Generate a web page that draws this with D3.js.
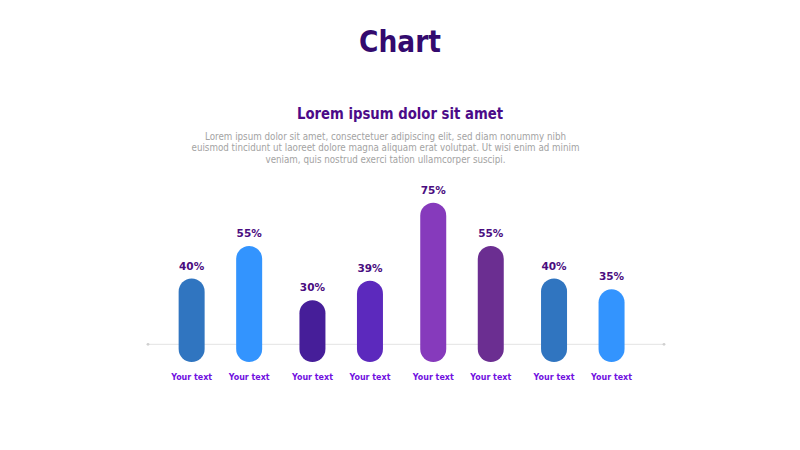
<!DOCTYPE html>
<html>
<head>
<meta charset="utf-8">
<script src="https://cdn.jsdelivr.net/npm/d3@7"></script>
<style>
  html, body { margin: 0; padding: 0; background: #ffffff; }
  svg { display: block; }
  text { font-family: "DejaVu Sans", Verdana, sans-serif; }
</style>
</head>
<body>
<svg id="chart" width="800" height="450"></svg>
<script>
// ---- data ----
const categories = ["Your text", "Your text", "Your text", "Your text", "Your text", "Your text", "Your text", "Your text"];
const values = [40, 55, 30, 39, 75, 55, 40, 35];
const groups = ["A", "A", "B", "B", "C", "C", "D", "D"];
const colors = ["#3075c0", "#3394fe", "#461e99", "#5c29bd", "#863abc", "#6b2e91", "#3075c0", "#3394fe"];
const title = "Chart";
const subtitle = "Lorem ipsum dolor sit amet";
const paragraph = [
  "Lorem ipsum dolor sit amet, consectetuer adipiscing elit, sed diam nonummy nibh",
  "euismod tincidunt ut laoreet dolore magna aliquam erat volutpat. Ut wisi enim ad minim",
  "veniam, quis nostrud exerci tation ullamcorper suscipi."
];

const svg = d3.select("#chart");
const W = 800;

// ---- headings ----
svg.append("text").attr("x", W / 2).attr("y", 52)
  .attr("text-anchor", "middle").attr("font-size", 30).attr("font-weight", "bold")
  .attr("fill", "#330a6e").attr("textLength", 82).attr("lengthAdjust", "spacingAndGlyphs")
  .text(title);

svg.append("text").attr("x", W / 2).attr("y", 119)
  .attr("text-anchor", "middle").attr("font-size", 15.5).attr("font-weight", "bold")
  .attr("fill", "#4b0a88").attr("textLength", 206).attr("lengthAdjust", "spacingAndGlyphs")
  .text(subtitle);

const paraLens = [361, 388, 240];
svg.append("g").selectAll("text").data(paragraph).join("text")
  .attr("x", 385.5).attr("y", (d, i) => 139.5 + i * 11.6)
  .attr("text-anchor", "middle").attr("font-size", 10.5)
  .attr("fill", "#a3a3a3")
  .attr("textLength", (d, i) => paraLens[i]).attr("lengthAdjust", "spacingAndGlyphs")
  .text(d => d);

// ---- scales ----
const groupNames = Array.from(new Set(groups));
const x0 = d3.scaleBand().domain(groupNames).range([160, 643.2]).padding(0);
const x1 = d3.scaleBand().domain([0, 1]).range([0, x0.bandwidth()]).paddingInner(0).paddingOuter(0.05);
const y = d3.scaleLinear().domain([0, 100]).range([365.2, 148.5]);
const barW = 26;
const barBottom = 362;
const data = values.map((v, i) => ({ v, i, cat: categories[i], g: groups[i], k: i % 2, c: colors[i] }));
const cx = d => x0(d.g) + x1(d.k) + x1.bandwidth() / 2;

// ---- baseline ----
const axisG = svg.append("g");
axisG.append("line").attr("x1", 148).attr("x2", 664).attr("y1", 344.3).attr("y2", 344.3)
  .attr("stroke", "#e3e3e3").attr("stroke-width", 1);
axisG.selectAll("circle").data([148, 664]).join("circle")
  .attr("cx", d => d).attr("cy", 344.3).attr("r", 1.4).attr("fill", "#d0d0d0");

// ---- bars ----
svg.append("g").selectAll("rect").data(data).join("rect")
  .attr("x", d => cx(d) - barW / 2)
  .attr("y", d => y(d.v))
  .attr("width", barW)
  .attr("height", d => barBottom - y(d.v))
  .attr("rx", barW / 2).attr("ry", barW / 2)
  .attr("fill", d => d.c);

// ---- value labels ----
svg.append("g").selectAll("text").data(data).join("text")
  .attr("x", d => cx(d)).attr("y", d => y(d.v) - 9)
  .attr("text-anchor", "middle").attr("font-size", 10.5).attr("font-weight", "bold")
  .attr("fill", "#4a0d80")
  .text(d => d.v + "%");

// ---- category labels ----
svg.append("g").selectAll("text").data(data).join("text")
  .attr("x", d => cx(d)).attr("y", 380.3)
  .attr("text-anchor", "middle").attr("font-size", 9.5).attr("font-weight", "bold")
  .attr("fill", "#7110df")
  .attr("textLength", 41).attr("lengthAdjust", "spacingAndGlyphs")
  .text(d => d.cat);
</script>
</body>
</html>
